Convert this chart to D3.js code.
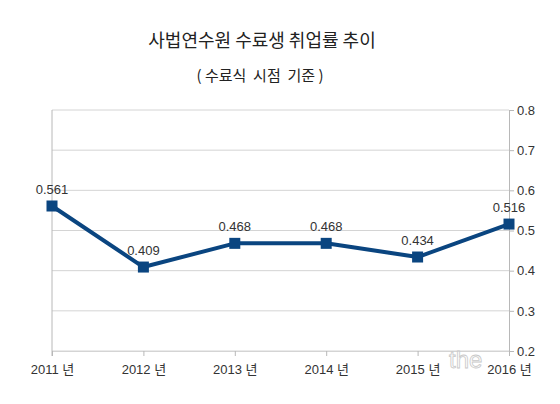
<!DOCTYPE html>
<html>
<head>
<meta charset="utf-8">
<script src="https://cdn.jsdelivr.net/npm/d3@7"></script>
<style>
  body { margin: 0; background: #fff; }
  text { font-family: "Liberation Sans", Arial, "Noto Sans CJK KR", sans-serif; }
</style>
</head>
<body>
<div id="chart"></div>
<script>
const years = ["2011 년", "2012 년", "2013 년", "2014 년", "2015 년", "2016 년"];
const rates = [0.561, 0.409, 0.468, 0.468, 0.434, 0.516];
const yTicks = [0.2, 0.3, 0.4, 0.5, 0.6, 0.7, 0.8];
const title = "사법연수원 수료생 취업률 추이";
const subtitle = "( 수료식  시점  기준 )";

const totalWidth = 560, totalHeight = 404;
const margin = { left: 52, right: 51, top: 110, bottom: 53 };
const width = totalWidth - margin.left - margin.right;
const height = totalHeight - margin.top - margin.bottom;

const root = d3.select("#chart")
    .append("svg")
    .attr("width", totalWidth)
    .attr("height", totalHeight);

root.append("text")
    .attr("x", 262).attr("y", 47)
    .attr("text-anchor", "middle")
    .attr("font-size", 18)
    .attr("fill", "#222")
    .style("font-family", "'Noto Sans CJK KR', sans-serif")
    .text(title);

root.append("text")
    .attr("x", 260).attr("y", 81)
    .attr("text-anchor", "middle")
    .attr("font-size", 15)
    .attr("fill", "#222")
    .style("font-family", "'Noto Sans CJK KR', sans-serif")
    .style("white-space", "pre")
    .text(subtitle);

const svg = root.append("g")
    .attr("transform", `translate(${margin.left},${margin.top})`);

const xScale = d3.scalePoint()
    .domain(years)
    .range([0, width]);

const yScale = d3.scaleLinear()
    .domain([0.2, 0.8])
    .range([height, 0]);

// gridlines
svg.append("g")
    .selectAll("line")
    .data(yTicks)
    .join("line")
    .attr("x1", 0).attr("x2", width)
    .attr("y1", d => yScale(d)).attr("y2", d => yScale(d))
    .attr("stroke", "#d4d4d4")
    .attr("stroke-width", 1);

// right axis
const yAxis = svg.append("g")
    .attr("transform", `translate(${width},0)`)
    .call(d3.axisRight(yScale).tickValues(yTicks).tickFormat(d3.format(".1f")).tickSize(5).tickPadding(3));
yAxis.select(".domain").attr("stroke", "#b8b8b8");
yAxis.selectAll(".tick line").attr("stroke", "#b8b8b8");
yAxis.selectAll("text").attr("font-size", 13).attr("fill", "#333")
    .style("font-family", "'Liberation Sans', Arial, sans-serif");

// bottom axis
const xAxis = svg.append("g")
    .attr("transform", `translate(0,${height})`)
    .call(d3.axisBottom(xScale).tickSize(5).tickPadding(9));
xAxis.select(".domain").attr("stroke", "#d4d4d4");
xAxis.selectAll(".tick line").attr("stroke", "#b8b8b8");
xAxis.selectAll("text").attr("font-size", 13).attr("fill", "#333")
    .style("font-family", "'Liberation Sans', 'Noto Sans CJK KR', sans-serif");

// left axis line
svg.append("line")
    .attr("x1", 0).attr("x2", 0)
    .attr("y1", 0).attr("y2", height + 5)
    .attr("stroke", "#b8b8b8");

const line = d3.line()
    .x((d, i) => xScale(years[i]))
    .y(d => yScale(d));

svg.append("path")
    .datum(rates)
    .attr("fill", "none")
    .attr("stroke", "#0a4580")
    .attr("stroke-width", 4)
    .attr("stroke-linejoin", "round")
    .attr("d", line);

svg.selectAll(".mark")
    .data(rates)
    .join("rect")
    .attr("class", "mark")
    .attr("x", (d, i) => xScale(years[i]) - 5.5)
    .attr("y", d => yScale(d) - 5.5)
    .attr("width", 11).attr("height", 11)
    .attr("fill", "#0a4580");

svg.selectAll(".lbl")
    .data(rates)
    .join("text")
    .attr("class", "lbl")
    .attr("x", (d, i) => xScale(years[i]))
    .attr("y", d => yScale(d) - 12)
    .attr("text-anchor", "middle")
    .attr("font-size", 13)
    .attr("fill", "#333")
    .text(d => d3.format(".3f")(d));

// faint watermark
root.append("text")
    .attr("x", 449).attr("y", 368)
    .attr("font-size", 24)
    .attr("fill", "rgba(255,255,255,0.7)")
    .attr("stroke", "#c8c8c8")
    .attr("stroke-width", 0.8)
    .text("the");
</script>
</body>
</html>
